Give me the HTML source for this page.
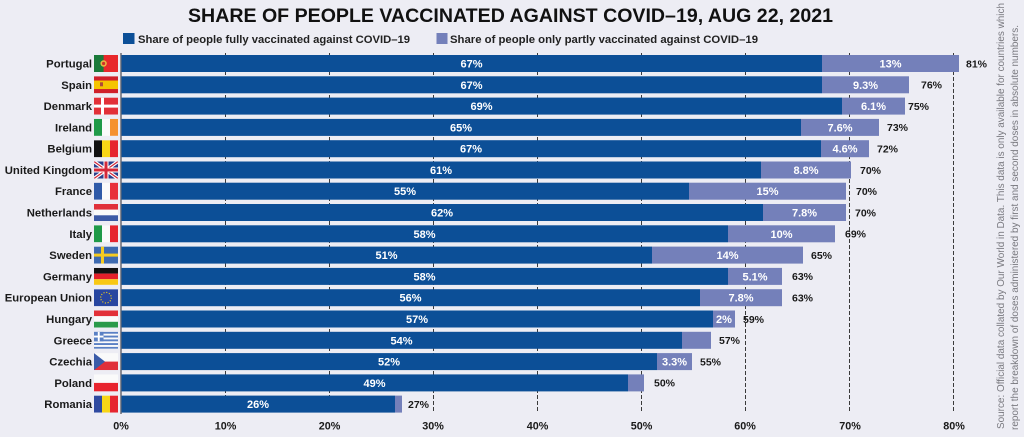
<!DOCTYPE html>
<html><head><meta charset="utf-8"><style>
html,body{margin:0;padding:0;background:#ededf4;}
svg{display:block;}
text{font-family:"Liberation Sans",Arial,sans-serif;}
</style></head><body>
<svg width="1024" height="437" viewBox="0 0 1024 437" xmlns="http://www.w3.org/2000/svg">
<defs>
<clipPath id="fc"><rect x="0" y="0" width="24" height="17"/></clipPath>
</defs>
<rect x="0" y="0" width="1024" height="437" fill="#ededf4"/>

<!-- Title -->
<text x="188" y="22" font-size="19.5" font-weight="bold" fill="#111" textLength="645" lengthAdjust="spacingAndGlyphs">SHARE OF PEOPLE VACCINATED AGAINST COVID–19, AUG 22, 2021</text>

<!-- Legend -->
<rect x="123" y="33" width="11.5" height="11" fill="#0c4f97"/>
<text x="138" y="43" font-size="11.2" font-weight="bold" fill="#222" textLength="272" lengthAdjust="spacingAndGlyphs">Share of people fully vaccinated against COVID–19</text>
<rect x="436.5" y="33" width="11" height="11" fill="#7480ba"/>
<text x="450" y="43" font-size="11.2" font-weight="bold" fill="#222" textLength="308" lengthAdjust="spacingAndGlyphs">Share of people only partly vaccinated against COVID–19</text>

<!-- Gridlines -->
<g stroke="#3a3a3a" stroke-width="1" stroke-dasharray="4 2">
<line x1="225.5" y1="53" x2="225.5" y2="413"/>
<line x1="329.5" y1="53" x2="329.5" y2="413"/>
<line x1="433.5" y1="53" x2="433.5" y2="413"/>
<line x1="537.5" y1="53" x2="537.5" y2="413"/>
<line x1="641.5" y1="53" x2="641.5" y2="413"/>
<line x1="745.5" y1="53" x2="745.5" y2="413"/>
<line x1="849.5" y1="53" x2="849.5" y2="413"/>
<line x1="953.5" y1="53" x2="953.5" y2="413"/>
</g>
<line x1="121" y1="53" x2="121" y2="414" stroke="#6a6a72" stroke-width="1.5"/>

<!-- Bars -->
<g>
<rect x="121.5" y="55" width="700.5" height="17" fill="#0c4f97"/><rect x="822" y="55" width="137" height="17" fill="#7480ba"/>
<rect x="121.5" y="76.3" width="700.5" height="17" fill="#0c4f97"/><rect x="822" y="76.3" width="87" height="17" fill="#7480ba"/>
<rect x="121.5" y="97.6" width="720.5" height="17" fill="#0c4f97"/><rect x="842" y="97.6" width="63" height="17" fill="#7480ba"/>
<rect x="121.5" y="118.9" width="679.5" height="17" fill="#0c4f97"/><rect x="801" y="118.9" width="78" height="17" fill="#7480ba"/>
<rect x="121.5" y="140.2" width="699.5" height="17" fill="#0c4f97"/><rect x="821" y="140.2" width="48" height="17" fill="#7480ba"/>
<rect x="121.5" y="161.5" width="639.5" height="17" fill="#0c4f97"/><rect x="761" y="161.5" width="90" height="17" fill="#7480ba"/>
<rect x="121.5" y="182.7" width="567.5" height="17" fill="#0c4f97"/><rect x="689" y="182.7" width="157" height="17" fill="#7480ba"/>
<rect x="121.5" y="204" width="641.5" height="17" fill="#0c4f97"/><rect x="763" y="204" width="83" height="17" fill="#7480ba"/>
<rect x="121.5" y="225.3" width="606.5" height="17" fill="#0c4f97"/><rect x="728" y="225.3" width="107" height="17" fill="#7480ba"/>
<rect x="121.5" y="246.6" width="530.5" height="17" fill="#0c4f97"/><rect x="652" y="246.6" width="151" height="17" fill="#7480ba"/>
<rect x="121.5" y="267.9" width="606.5" height="17" fill="#0c4f97"/><rect x="728" y="267.9" width="54" height="17" fill="#7480ba"/>
<rect x="121.5" y="289.2" width="578.5" height="17" fill="#0c4f97"/><rect x="700" y="289.2" width="82" height="17" fill="#7480ba"/>
<rect x="121.5" y="310.5" width="591.5" height="17" fill="#0c4f97"/><rect x="713" y="310.5" width="22" height="17" fill="#7480ba"/>
<rect x="121.5" y="331.8" width="560.5" height="17" fill="#0c4f97"/><rect x="682" y="331.8" width="29" height="17" fill="#7480ba"/>
<rect x="121.5" y="353.1" width="535.5" height="17" fill="#0c4f97"/><rect x="657" y="353.1" width="35" height="17" fill="#7480ba"/>
<rect x="121.5" y="374.4" width="506.5" height="17" fill="#0c4f97"/><rect x="628" y="374.4" width="16" height="17" fill="#7480ba"/>
<rect x="121.5" y="395.6" width="273.5" height="17" fill="#0c4f97"/><rect x="395" y="395.6" width="7" height="17" fill="#7480ba"/>
</g>

<!-- In-bar labels -->
<g font-size="11" font-weight="bold" fill="#ffffff" text-anchor="middle">
<text x="471.5" y="67.5">67%</text><text x="890.5" y="67.5">13%</text>
<text x="471.5" y="88.8">67%</text><text x="865.5" y="88.8">9.3%</text>
<text x="481.5" y="110.1">69%</text><text x="873.5" y="110.1">6.1%</text>
<text x="461" y="131.4">65%</text><text x="840" y="131.4">7.6%</text>
<text x="471" y="152.7">67%</text><text x="845" y="152.7">4.6%</text>
<text x="441" y="174">61%</text><text x="806" y="174">8.8%</text>
<text x="405" y="195.2">55%</text><text x="767.5" y="195.2">15%</text>
<text x="442" y="216.5">62%</text><text x="804.5" y="216.5">7.8%</text>
<text x="424.5" y="237.8">58%</text><text x="781.5" y="237.8">10%</text>
<text x="386.5" y="259.1">51%</text><text x="727.5" y="259.1">14%</text>
<text x="424.5" y="280.4">58%</text><text x="755" y="280.4">5.1%</text>
<text x="410.5" y="301.7">56%</text><text x="741" y="301.7">7.8%</text>
<text x="417" y="323">57%</text><text x="724" y="323">2%</text>
<text x="401.5" y="344.3">54%</text>
<text x="389" y="365.6">52%</text><text x="674.5" y="365.6">3.3%</text>
<text x="374.5" y="386.9">49%</text>
<text x="258" y="408.1">26%</text>
</g>

<!-- Total labels -->
<g font-size="10.5" font-weight="bold" fill="#1a1a1a">
<text x="966" y="67.3">81%</text>
<text x="921" y="88.6">76%</text>
<text x="908" y="109.9">75%</text>
<text x="887" y="131.2">73%</text>
<text x="877" y="152.5">72%</text>
<text x="860" y="173.8">70%</text>
<text x="856" y="195">70%</text>
<text x="855" y="216.3">70%</text>
<text x="845" y="237.6">69%</text>
<text x="811" y="258.9">65%</text>
<text x="792" y="280.2">63%</text>
<text x="792" y="301.5">63%</text>
<text x="743" y="322.8">59%</text>
<text x="719" y="344.1">57%</text>
<text x="700" y="365.4">55%</text>
<text x="654" y="386.7">50%</text>
<text x="408" y="407.9">27%</text>
</g>

<!-- Country labels -->
<g font-size="11.3" font-weight="bold" fill="#1a1a1a" text-anchor="end">
<text x="92" y="67.5">Portugal</text>
<text x="92" y="88.8">Spain</text>
<text x="92" y="110.1">Denmark</text>
<text x="92" y="131.4">Ireland</text>
<text x="92" y="152.7">Belgium</text>
<text x="92" y="174">United Kingdom</text>
<text x="92" y="195.2">France</text>
<text x="92" y="216.5">Netherlands</text>
<text x="92" y="237.8">Italy</text>
<text x="92" y="259.1">Sweden</text>
<text x="92" y="280.4">Germany</text>
<text x="92" y="301.7">European Union</text>
<text x="92" y="323">Hungary</text>
<text x="92" y="344.3">Greece</text>
<text x="92" y="365.6">Czechia</text>
<text x="92" y="386.9">Poland</text>
<text x="92" y="408.1">Romania</text>
</g>

<!-- Flags -->
<g transform="translate(94,55)" clip-path="url(#fc)">
<rect width="24" height="17" fill="#e8282b"/><rect width="9.6" height="17" fill="#1a7a3a"/>
<circle cx="9.6" cy="8.5" r="3.2" fill="#e8b440"/><circle cx="9.6" cy="8.5" r="1.6" fill="#d0302a"/>
</g>
<g transform="translate(94,76.3)" clip-path="url(#fc)">
<rect width="24" height="17" fill="#d0202a"/><rect y="4.25" width="24" height="8.5" fill="#f5c400"/>
<rect x="6" y="6" width="3" height="4" fill="#b0483a"/>
</g>
<g transform="translate(94,97.6)" clip-path="url(#fc)">
<rect width="24" height="17" fill="#e23038"/><rect x="7" width="3" height="17" fill="#fff"/><rect y="7" width="24" height="3" fill="#fff"/>
</g>
<g transform="translate(94,118.9)" clip-path="url(#fc)">
<rect width="8" height="17" fill="#1f9a48"/><rect x="8" width="8" height="17" fill="#fafafa"/><rect x="16" width="8" height="17" fill="#f5922f"/>
</g>
<g transform="translate(94,140.2)" clip-path="url(#fc)">
<rect width="8" height="17" fill="#111"/><rect x="8" width="8" height="17" fill="#f8d616"/><rect x="16" width="8" height="17" fill="#e6252f"/>
</g>
<g transform="translate(94,161.5)" clip-path="url(#fc)">
<rect width="24" height="17" fill="#2b3f8c"/>
<line x1="0" y1="0" x2="24" y2="17" stroke="#fff" stroke-width="3.5"/><line x1="24" y1="0" x2="0" y2="17" stroke="#fff" stroke-width="3.5"/>
<line x1="0" y1="0" x2="24" y2="17" stroke="#d4283a" stroke-width="1.2"/><line x1="24" y1="0" x2="0" y2="17" stroke="#d4283a" stroke-width="1.2"/>
<rect x="9.5" width="5" height="17" fill="#fff"/><rect y="6" width="24" height="5" fill="#fff"/>
<rect x="10.5" width="3" height="17" fill="#d4283a"/><rect y="7" width="24" height="3" fill="#d4283a"/>
</g>
<g transform="translate(94,182.7)" clip-path="url(#fc)">
<rect width="8" height="17" fill="#2f5aa8"/><rect x="8" width="8" height="17" fill="#fafafa"/><rect x="16" width="8" height="17" fill="#e8303a"/>
</g>
<g transform="translate(94,204)" clip-path="url(#fc)">
<rect width="24" height="5.7" fill="#e0303a"/><rect y="5.7" width="24" height="5.6" fill="#fafafa"/><rect y="11.3" width="24" height="5.7" fill="#3c5aa6"/>
</g>
<g transform="translate(94,225.3)" clip-path="url(#fc)">
<rect width="8" height="17" fill="#1f9a48"/><rect x="8" width="8" height="17" fill="#fafafa"/><rect x="16" width="8" height="17" fill="#e6252f"/>
</g>
<g transform="translate(94,246.6)" clip-path="url(#fc)">
<rect width="24" height="17" fill="#3d6ab0"/><rect x="7" width="3" height="17" fill="#f5cb20"/><rect y="7" width="24" height="3" fill="#f5cb20"/>
</g>
<g transform="translate(94,267.9)" clip-path="url(#fc)">
<rect width="24" height="5.7" fill="#111"/><rect y="5.7" width="24" height="5.6" fill="#e2202a"/><rect y="11.3" width="24" height="5.7" fill="#f8c814"/>
</g>
<g transform="translate(94,289.2)" clip-path="url(#fc)">
<rect width="24" height="17" fill="#2846a0"/>
<circle cx="12" cy="8.5" r="5.3" fill="none" stroke="#e8c820" stroke-width="1.2" stroke-dasharray="1.1 1.68"/>
</g>
<g transform="translate(94,310.5)" clip-path="url(#fc)">
<rect width="24" height="5.7" fill="#e23038"/><rect y="5.7" width="24" height="5.6" fill="#fafafa"/><rect y="11.3" width="24" height="5.7" fill="#2a9a4a"/>
</g>
<g transform="translate(94,331.8)" clip-path="url(#fc)">
<rect width="24" height="17" fill="#fafafa"/>
<rect y="0" width="24" height="1.9" fill="#5a80c4"/><rect y="3.8" width="24" height="1.9" fill="#5a80c4"/><rect y="7.6" width="24" height="1.9" fill="#5a80c4"/><rect y="11.3" width="24" height="1.9" fill="#5a80c4"/><rect y="15.1" width="24" height="1.9" fill="#5a80c4"/>
<rect width="9.5" height="9.5" fill="#5a80c4"/><rect x="3.8" width="1.9" height="9.5" fill="#fff"/><rect y="3.8" width="9.5" height="1.9" fill="#fff"/>
</g>
<g transform="translate(94,353.1)" clip-path="url(#fc)">
<rect width="24" height="8.5" fill="#fafafa"/><rect y="8.5" width="24" height="8.5" fill="#e0303a"/>
<polygon points="0,0 11,8.5 0,17" fill="#3a5ba8"/>
</g>
<g transform="translate(94,374.4)" clip-path="url(#fc)">
<rect width="24" height="8.5" fill="#fafafa"/><rect y="8.5" width="24" height="8.5" fill="#e8242e"/>
</g>
<g transform="translate(94,395.6)" clip-path="url(#fc)">
<rect width="8" height="17" fill="#2f4aa0"/><rect x="8" width="8" height="17" fill="#f8d616"/><rect x="16" width="8" height="17" fill="#e6252f"/>
</g>

<!-- X axis labels -->
<g font-size="10.8" font-weight="bold" fill="#1a1a1a" text-anchor="middle">
<text x="121" y="429.5">0%</text>
<text x="225.5" y="429.5">10%</text>
<text x="329.5" y="429.5">20%</text>
<text x="433" y="429.5">30%</text>
<text x="537.5" y="429.5">40%</text>
<text x="641.5" y="429.5">50%</text>
<text x="745" y="429.5">60%</text>
<text x="850" y="429.5">70%</text>
<text x="954" y="429.5">80%</text>
</g>

<!-- Source text -->
<g font-size="10" fill="#7a7a80">
<text transform="translate(1004,429) rotate(-90)" x="0" y="0" textLength="426" lengthAdjust="spacingAndGlyphs">Source: Official data collated by Our World in Data. This data is only available for countries which</text>
<text transform="translate(1018,430) rotate(-90)" x="0" y="0" textLength="405" lengthAdjust="spacingAndGlyphs">report the breakdown of doses administered by first and second doses in absolute numbers.</text>
</g>
</svg>
</body></html>
